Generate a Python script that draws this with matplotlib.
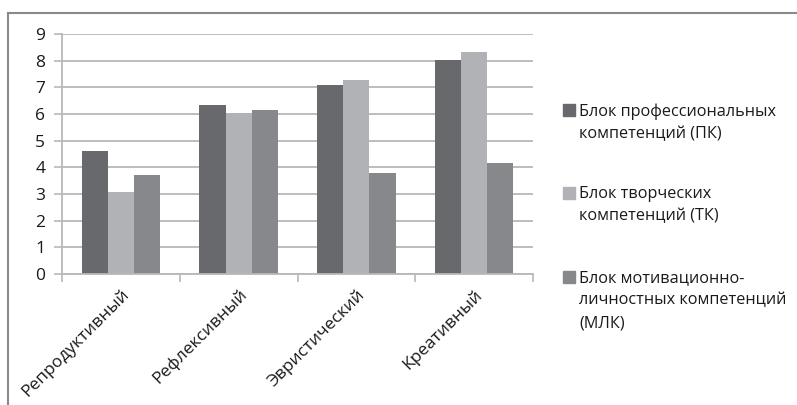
import matplotlib
matplotlib.use("Agg")
import matplotlib.pyplot as plt
from matplotlib.lines import Line2D
from matplotlib.patches import Rectangle
import numpy as np

plt.rcParams['font.family'] = ['Open Sans', 'DejaVu Sans']

categories = ["Репродуктивный", "Рефлексивный", "Эвристический", "Креативный"]
series_names = ["Блок профессиональных\nкомпетенций (ПК)",
                "Блок творческих\nкомпетенций (ТК)",
                "Блок мотивационно-\nличностных компетенций\n(МЛК)"]
pk = [4.63, 6.32, 7.09, 8.02]
tk = [3.09, 6.03, 7.27, 8.32]
mlk = [3.73, 6.15, 3.80, 4.18]
series = [pk, tk, mlk]
colors = ["#68696d", "#b1b2b5", "#87888c"]
yticks = list(range(0, 10))

W, H = 797, 405
fig = plt.figure(figsize=(W / 100, H / 100), dpi=100)
fig.patch.set_facecolor("white")

ax = fig.add_axes([62 / W, (H - 274) / H, (533 - 62) / W, (274 - 34) / H])

n = len(series)
bw = 1 / (n + 1.5)
x = np.arange(len(categories))
for i, (vals, c) in enumerate(zip(series, colors)):
    ax.bar(x + (i - (n - 1) / 2) * bw, vals, width=bw, color=c, zorder=2)

ax.set_xlim(-0.5, len(categories) - 0.5)
ax.set_ylim(0, 9)
ax.set_yticks(yticks)
ax.set_yticklabels([str(t) for t in yticks], fontsize=12.5, color="#1a1a1a")
ax.yaxis.grid(True, color="#b8b8b8", linewidth=1.3, zorder=0)
ax.set_axisbelow(True)
ax.tick_params(axis="y", length=6, width=1.2, color="#b8b8b8", pad=6)

ax.set_xticks(np.arange(len(categories) + 1) - 0.5, minor=False)
ax.set_xticklabels([])
ax.tick_params(axis="x", which="major", length=6, width=1.2, color="#b8b8b8", direction="out")
ax.set_xticks(x, minor=True)
ax.set_xticklabels(categories, minor=True, rotation=45, ha="right",
                   rotation_mode="anchor", fontsize=12.5, color="#1a1a1a")
ax.tick_params(axis="x", which="minor", length=0, pad=9)

for s in ["top", "right"]:
    ax.spines[s].set_visible(False)
for s in ["left", "bottom"]:
    ax.spines[s].set_color("#b8b8b8")
    ax.spines[s].set_linewidth(1.3)

# legend (manual, Excel-style)
leg_x = 563
leg_y = [110, 193, 277]
for name, c, yy in zip(series_names, colors, leg_y):
    fig.add_artist(Rectangle((leg_x / W, (H - yy - 6) / H), 12 / W, 12 / H,
                             transform=fig.transFigure, color=c))
    fig.text(579 / W, (H - yy + 7) / H, name, fontsize=11.7, color="#1a1a1a",
             va="top", ha="left", linespacing=1.55)

# outer chart frame (cropped)
fig.add_artist(Line2D([8 / W, 1], [(H - 13) / H] * 2, color="#8a8a8a", linewidth=1.5,
                      transform=fig.transFigure))
fig.add_artist(Line2D([8 / W] * 2, [0, (H - 13) / H], color="#8a8a8a", linewidth=1.5,
                      transform=fig.transFigure))

fig.savefig("out.png", dpi=100)
